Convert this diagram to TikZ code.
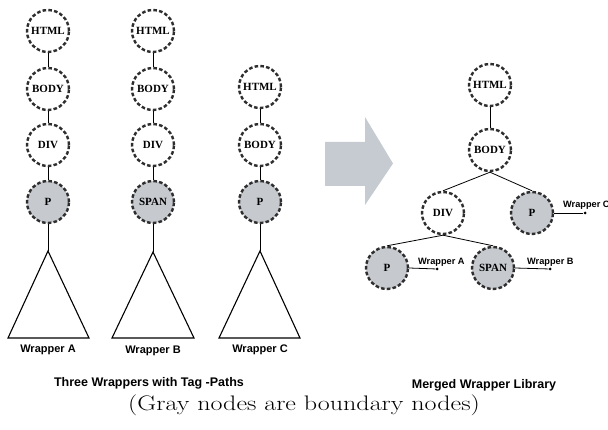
\documentclass[tikz,border=0pt]{standalone}
\usepackage{fontspec}
\setmainfont{Latin Modern Roman}
\newfontfamily\tagfont{Liberation Serif}
\newfontfamily\labfont{Liberation Sans}
\usetikzlibrary{arrows.meta}
\definecolor{boundgray}{HTML}{C6CACF}
\definecolor{dashgray}{HTML}{2E2E2E}
\definecolor{arrowgray}{HTML}{C5CBD1}
\tikzset{
  tag/.style={circle, draw=dashgray, line width=2.4pt, dash pattern=on 3.6pt off 2.2pt,
    minimum size=42pt, inner sep=0pt, font=\tagfont\bfseries\fontsize{11}{12}\selectfont},
  boundary/.style={tag, fill=boundgray},
  edge/.style={line width=0.8pt, black},
  subtree/.style={line width=1.1pt, black},
  wlabel/.style={font=\labfont\bfseries\fontsize{11}{12}\selectfont, inner sep=0pt},
  slabel/.style={font=\labfont\bfseries\fontsize{9.2}{10}\selectfont, inner sep=0pt, anchor=west},
  caption/.style={font=\labfont\bfseries\fontsize{12.5}{14}\selectfont, inner sep=0pt},
  dot/.style={circle, fill=black, inner sep=0pt, minimum size=3pt},
}
\begin{document}
\begin{tikzpicture}[x=1pt,y=-1pt]
\useasboundingbox (0,0) rectangle (608,430);

% Wrapper A path
\node[tag] (a1) at (48,31) {HTML};
\node[tag] (a2) at (48,89) {BODY};
\node[tag] (a3) at (48,145) {DIV};
\node[boundary] (a4) at (48,202) {P};
\coordinate (at) at (48,251);
\draw[edge] (a1) -- (a2);
\draw[edge] (a2) -- (a3);
\draw[edge] (a3) -- (a4);
\draw[edge] (a4) -- (at);
\draw[subtree] (at) -- (8,338) -- (89,338) -- cycle;
\node[wlabel] (la) at (48,350) {Wrapper A};

% Wrapper B path
\node[tag] (b1) at (153,31) {HTML};
\node[tag] (b2) at (153,89) {BODY};
\node[tag] (b3) at (153,145) {DIV};
\node[boundary] (b4) at (153,202) {SPAN};
\coordinate (bt) at (153,252);
\draw[edge] (b1) -- (b2);
\draw[edge] (b2) -- (b3);
\draw[edge] (b3) -- (b4);
\draw[edge] (b4) -- (bt);
\draw[subtree] (bt) -- (112,338) -- (194,338) -- cycle;
\node[wlabel] (lb) at (153,351) {Wrapper B};

% Wrapper C path
\node[tag] (c1) at (260,87) {HTML};
\node[tag] (c2) at (260,145) {BODY};
\node[boundary] (c3) at (260,202) {P};
\coordinate (ct) at (260,251);
\draw[edge] (c1) -- (c2);
\draw[edge] (c2) -- (c3);
\draw[edge] (c3) -- (ct);
\draw[subtree] (ct) -- (219,338) -- (300,338) -- cycle;
\node[wlabel] (lc) at (260,350) {Wrapper C};

\node[caption] (cap1) at (149,383) {Three Wrappers with Tag -Paths};

% merge arrow
\fill[arrowgray] (325,142) -- (365,142) -- (365,117) -- (393,163.5)
  -- (365,205) -- (365,186) -- (325,186) -- cycle;

% merged tree
\node[tag] (m1) at (490,85) {HTML};
\node[tag] (m2) at (490,150) {BODY};
\node[tag] (m3) at (443,213) {DIV};
\node[boundary] (m4) at (532,213) {P};
\node[boundary] (m5) at (387,268) {P};
\node[boundary] (m6) at (493,268) {SPAN};
\draw[edge] (m1) -- (m2);
\draw[edge] (m2.south) -- (m3.north);
\draw[edge] (m2.south) -- (m4.north);
\draw[edge] (m3.south) -- (m5.north);
\draw[edge] (m3.south) -- (m6.north);

\node[dot] (dc) at (585,213) {};
\draw[edge] (m4.east) -- (dc);
\node[slabel] (wc) at (563,205) {Wrapper C};
\node[dot] (da) at (437,269) {};
\draw[edge] (m5.east) -- (da);
\node[slabel] (wa) at (418,262) {Wrapper A};
\node[dot] (db) at (550,269) {};
\draw[edge] (m6.east) -- (db);
\node[slabel] (wb) at (527,262) {Wrapper B};

\node[caption] (cap2) at (484,385) {Merged Wrapper Library};

\node[font=\fontsize{21}{25}\selectfont, inner sep=0pt, xscale=1.24, transform shape] (note) at (304,405) {(Gray nodes are boundary nodes)};
\end{tikzpicture}
\end{document}
